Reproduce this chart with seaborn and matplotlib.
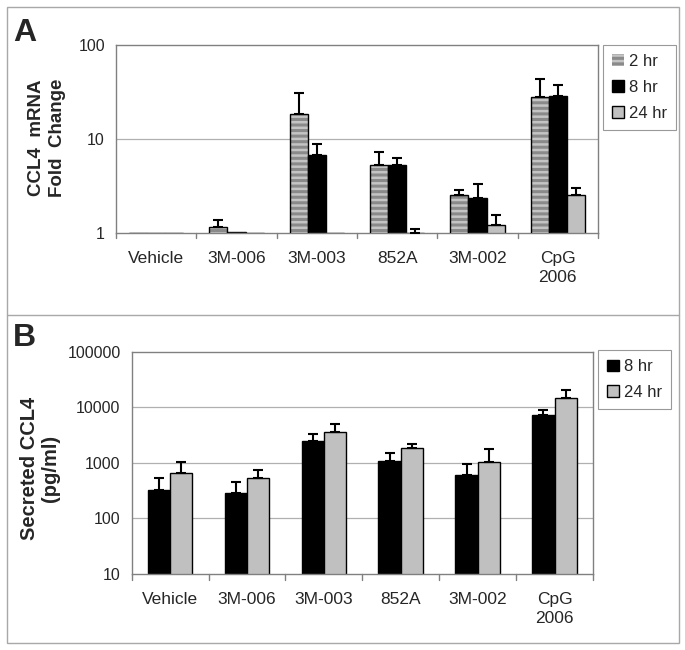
"""
CCL4 mRNA fold change and secreted CCL4 - two panel bar chart
"""

import numpy as np
import pandas as pd
import matplotlib
matplotlib.use("Agg")
import matplotlib.pyplot as plt
from matplotlib.patches import Patch, Rectangle
from matplotlib.lines import Line2D
import seaborn as sns

# Data
treatments = ["Vehicle", "3M-006", "3M-003", "852A", "3M-002", "CpG\n2006"]

# Panel A: mRNA fold change
mrna_times = ["2 hr", "8 hr", "24 hr"]
mrna_2hr = [1.0, 1.17, 18.3, 5.3, 2.54, 27.7]
mrna_8hr = [1.0, 1.02, 6.8, 5.3, 2.38, 28.7]
mrna_24hr = [1.0, 1.0, 1.0, 1.0, 1.21, 2.54]
mrna_2hr_err = [0.0, 0.20, 12.3, 2.0, 0.32, 15.8]
mrna_8hr_err = [0.0, 0.0, 2.1, 1.0, 0.92, 8.6]
mrna_24hr_err = [0.0, 0.0, 0.0, 0.09, 0.34, 0.46]

# Panel B: secreted protein (pg/ml)
prot_times = ["8 hr", "24 hr"]
prot_8hr = [331, 285, 2480, 1090, 608, 7380]
prot_24hr = [670, 537, 3600, 1860, 1028, 14900]
prot_8hr_err = [208, 165, 885, 425, 351, 1700]
prot_24hr_err = [358, 201, 1355, 335, 754, 5560]

GRID = "#b0b0b0"
SPINE = "#808080"
STRIPE_BG = "#c4c4c4"
STRIPE_FG = "#8a8a8a"


def long_table(values, times):
    rows = []
    for t, vals in zip(times, values):
        for cat, v in zip(treatments, vals):
            rows.append({"treatment": cat, "time": t, "value": v})
    return pd.DataFrame(rows)


def style_axes(ax, ylim, yticks):
    ax.set_yscale("log")
    ax.set_ylim(*ylim)
    ax.set_yticks(yticks)
    ax.set_yticklabels([str(v) for v in yticks])
    ax.yaxis.set_minor_locator(matplotlib.ticker.NullLocator())
    ax.set_xlim(-0.5, len(treatments) - 0.5)
    ax.set_xlabel("")
    ax.set_ylabel("")
    for s in ax.spines.values():
        s.set_color(SPINE)
        s.set_linewidth(1.0)
    for y in yticks[1:-1]:
        ax.axhline(y, color=GRID, lw=0.9, zorder=0)
    # category labels centred, ticks on the boundaries
    ax.set_xticks(np.arange(len(treatments)))
    ax.set_xticklabels(treatments, fontsize=12.5, linespacing=1.3)
    ax.tick_params(axis="x", length=0, pad=13)
    for b in np.arange(-0.5, len(treatments)):
        ax.plot([b, b], [0, -0.025], transform=ax.get_xaxis_transform(),
                color=SPINE, lw=1.0, clip_on=False)
    ax.tick_params(axis="y", length=4, color=SPINE, labelsize=11.5, pad=4)


def add_errors(ax, errs):
    for container, err in zip(ax.containers, errs):
        for bar, e in zip(container, err):
            if e <= 0:
                continue
            x = bar.get_x() + bar.get_width() / 2
            top = bar.get_y() + bar.get_height()
            ax.errorbar(x, top, yerr=[[0], [e]], fmt="none", ecolor="black",
                        elinewidth=1.5, capsize=3.5, capthick=1.5, zorder=4)


def main():
    sns.set_theme(style="white")
    plt.rcParams["font.family"] = ["Liberation Sans", "DejaVu Sans"]
    plt.rcParams["hatch.linewidth"] = 2.2

    fig = plt.figure(figsize=(6.85, 6.5), dpi=100)

    # ---- Panel A ----
    ax_a = fig.add_axes([116 / 685, 1 - 233 / 650, 482 / 685, 188 / 650])
    df_a = long_table([mrna_2hr, mrna_8hr, mrna_24hr], mrna_times)
    ax_a.set_yscale("log")
    sns.barplot(data=df_a, x="treatment", y="value", hue="time",
                palette=["#b0b0b0", "black", "#c0c0c0"], errorbar=None,
                width=0.68, gap=0, edgecolor="black", linewidth=1.0,
                legend=False, ax=ax_a, zorder=2)
    # striped 2 hr bars
    for bar in ax_a.containers[0]:
        bar.set_facecolor(STRIPE_BG)
        bar.set_edgecolor(STRIPE_FG)
        bar.set_linewidth(0)
        bar.set_hatch("---")
        ax_a.add_patch(Rectangle((bar.get_x(), bar.get_y()), bar.get_width(),
                                 bar.get_height(), fill=False,
                                 edgecolor="black", lw=1.0, zorder=3))
    add_errors(ax_a, [mrna_2hr_err, mrna_8hr_err, mrna_24hr_err])
    style_axes(ax_a, (1, 100), [1, 10, 100])
    fig.text(47 / 685, 1 - 138 / 650, "CCL4  mRNA\nFold  Change",
             rotation=90, ha="center", va="center", fontsize=13.5,
             fontweight="bold", linespacing=1.25)

    handles_a = [
        Patch(facecolor=STRIPE_BG, edgecolor=STRIPE_FG, hatch="---", lw=0),
        Patch(facecolor="black", edgecolor="black"),
        Patch(facecolor="#c0c0c0", edgecolor="black"),
    ]
    leg_a = fig.legend(handles_a, mrna_times, loc="upper left",
                       bbox_to_anchor=(603 / 685, 1 - 45 / 650),
                       fontsize=12, frameon=True, fancybox=False,
                       handlelength=0.7, handleheight=0.7, handletextpad=0.3,
                       labelspacing=0.65, borderpad=0.55, borderaxespad=0)
    leg_a.get_frame().set_edgecolor(SPINE)
    leg_a.get_frame().set_linewidth(0.8)

    # ---- Panel B ----
    ax_b = fig.add_axes([131.7 / 685, 1 - 574 / 650, 461.3 / 685, 222.3 / 650])
    df_b = long_table([prot_8hr, prot_24hr], prot_times)
    ax_b.set_yscale("log")
    sns.barplot(data=df_b, x="treatment", y="value", hue="time",
                palette=["black", "#c0c0c0"], errorbar=None,
                width=0.58, gap=0, edgecolor="black", linewidth=1.0,
                legend=False, ax=ax_b, zorder=2)
    add_errors(ax_b, [prot_8hr_err, prot_24hr_err])
    style_axes(ax_b, (10, 100000), [10, 100, 1000, 10000, 100000])
    fig.text(40 / 685, 1 - 468 / 650, "Secreted CCL4\n(pg/ml)",
             rotation=90, ha="center", va="center", fontsize=14.5,
             fontweight="bold", linespacing=1.1)

    handles_b = [
        Patch(facecolor="black", edgecolor="black"),
        Patch(facecolor="#c0c0c0", edgecolor="black"),
    ]
    leg_b = fig.legend(handles_b, prot_times, loc="upper left",
                       bbox_to_anchor=(598 / 685, 1 - 350 / 650),
                       fontsize=12, frameon=True, fancybox=False,
                       handlelength=0.7, handleheight=0.7, handletextpad=0.3,
                       labelspacing=0.65, borderpad=0.55, borderaxespad=0)
    leg_b.get_frame().set_edgecolor(SPINE)
    leg_b.get_frame().set_linewidth(0.8)

    # panel letters and frames
    fig.text(13 / 685, 1 - 41 / 650, "A", fontsize=23, fontweight="bold",
             va="baseline", ha="left")
    fig.text(13 / 685, 1 - 346 / 650, "B", fontsize=23, fontweight="bold",
             va="baseline", ha="left")
    fig.add_artist(Rectangle((7 / 685, 1 - 643 / 650), 672 / 685, 636 / 650,
                             transform=fig.transFigure, fill=False,
                             edgecolor="#a8a8a8", lw=1.0))
    fig.add_artist(Line2D([7 / 685, 679 / 685], [1 - 315 / 650, 1 - 315 / 650],
                          transform=fig.transFigure, color="#a8a8a8", lw=1.0))

    fig.savefig("out.png", dpi=100)
    plt.close(fig)


if __name__ == "__main__":
    main()
